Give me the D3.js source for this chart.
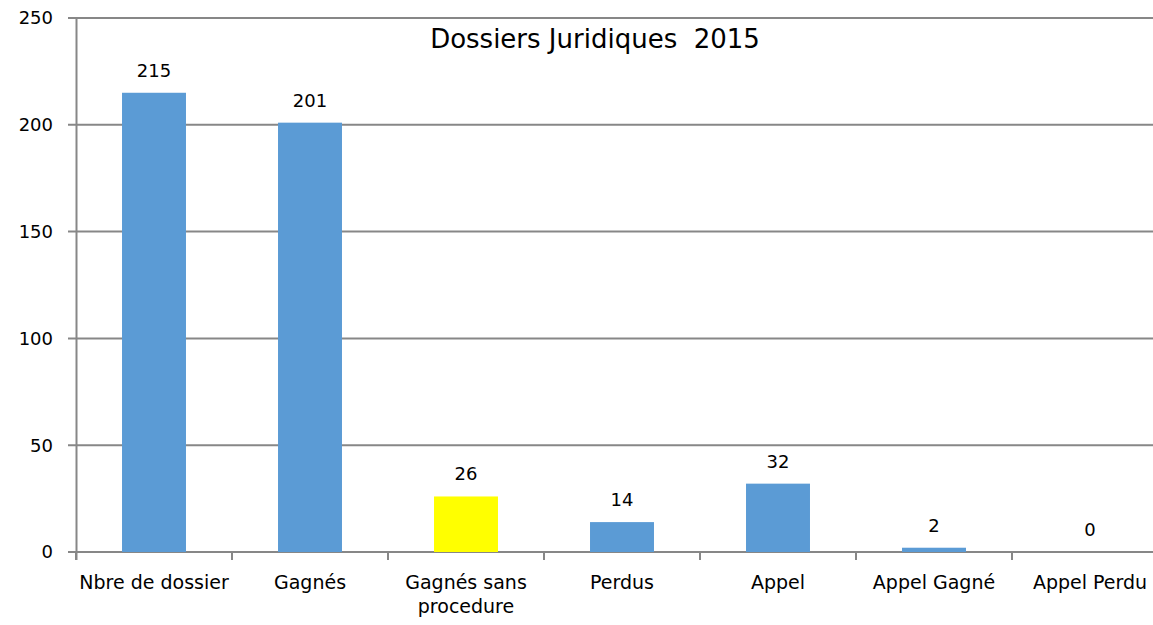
<!DOCTYPE html>
<html><head><meta charset="utf-8">
<script src="https://cdn.jsdelivr.net/npm/d3@7"></script>
<style>body{margin:0;background:#fff;overflow:hidden}svg{display:block}text{white-space:pre}</style>
</head><body>
<script>
const categories = ["Nbre de dossier", "Gagnés", "Gagnés sans procedure", "Perdus", "Appel", "Appel Gagné", "Appel Perdu"];
const values = [215, 201, 26, 14, 32, 2, 0];
const barColors = ["#5b9bd5", "#5b9bd5", "#ffff00", "#5b9bd5", "#5b9bd5", "#5b9bd5", "#5b9bd5"];
const yTicks = [0, 50, 100, 150, 200, 250];
const title = "Dossiers Juridiques  2015";

const W = 1153, H = 625;
const svg = d3.select("body").append("svg").attr("width", W).attr("height", H);
const font = "'DejaVu Sans', Verdana, sans-serif";

const x = d3.scaleBand().domain(categories).range([76, 1168]).paddingInner(0.59).paddingOuter(0.295);
const y = d3.scaleLinear().domain([0, 250]).range([552, 18]);

// gridlines
svg.append("g").selectAll("line").data(yTicks).join("line")
  .attr("x1", 68).attr("x2", W).attr("y1", d => y(d)).attr("y2", d => y(d))
  .attr("stroke", "#878787").attr("stroke-width", 2);

// y axis line
svg.append("line").attr("x1", 76.5).attr("x2", 76.5).attr("y1", 18).attr("y2", 560)
  .attr("stroke", "#878787").attr("stroke-width", 2);

// x ticks at band boundaries
const step = x.step();
const bounds = d3.range(categories.length + 1).map(i => 76 + i * step);
svg.append("g").selectAll("line").data(bounds).join("line")
  .attr("x1", d => d).attr("x2", d => d).attr("y1", 552).attr("y2", 560)
  .attr("stroke", "#878787").attr("stroke-width", 2);

// y tick labels
svg.append("g").selectAll("text").data(yTicks).join("text")
  .attr("x", 53).attr("y", d => y(d)).attr("dy", "0.35em")
  .attr("text-anchor", "end").attr("font-family", font).attr("font-size", 18)
  .attr("fill", "#000").text(d => d);

// bars
svg.append("g").selectAll("rect").data(values).join("rect")
  .attr("x", (d, i) => x(categories[i])).attr("width", x.bandwidth())
  .attr("y", d => y(d)).attr("height", d => y(0) - y(d))
  .attr("fill", (d, i) => barColors[i]);

// value labels
svg.append("g").selectAll("text").data(values).join("text")
  .attr("x", (d, i) => x(categories[i]) + x.bandwidth() / 2)
  .attr("y", d => y(d) - 16)
  .attr("text-anchor", "middle").attr("font-family", font).attr("font-size", 18)
  .attr("fill", "#000").text(d => d);

// category labels (wrap)
const lines = {"Gagnés sans procedure": ["Gagnés sans", "procedure"]};
const cl = svg.append("g");
categories.forEach(c => {
  const ls = lines[c] || [c];
  ls.forEach((t, j) => {
    cl.append("text").attr("x", x(c) + x.bandwidth() / 2).attr("y", 589 + j * 24)
      .attr("text-anchor", "middle").attr("font-family", font).attr("font-size", 19)
      .attr("fill", "#000").text(t);
  });
});

// title
svg.append("text").attr("x", 595).attr("y", 48).attr("text-anchor", "middle")
  .attr("font-family", font).attr("font-size", 26).attr("fill", "#000").text(title);
</script>
</body></html>
